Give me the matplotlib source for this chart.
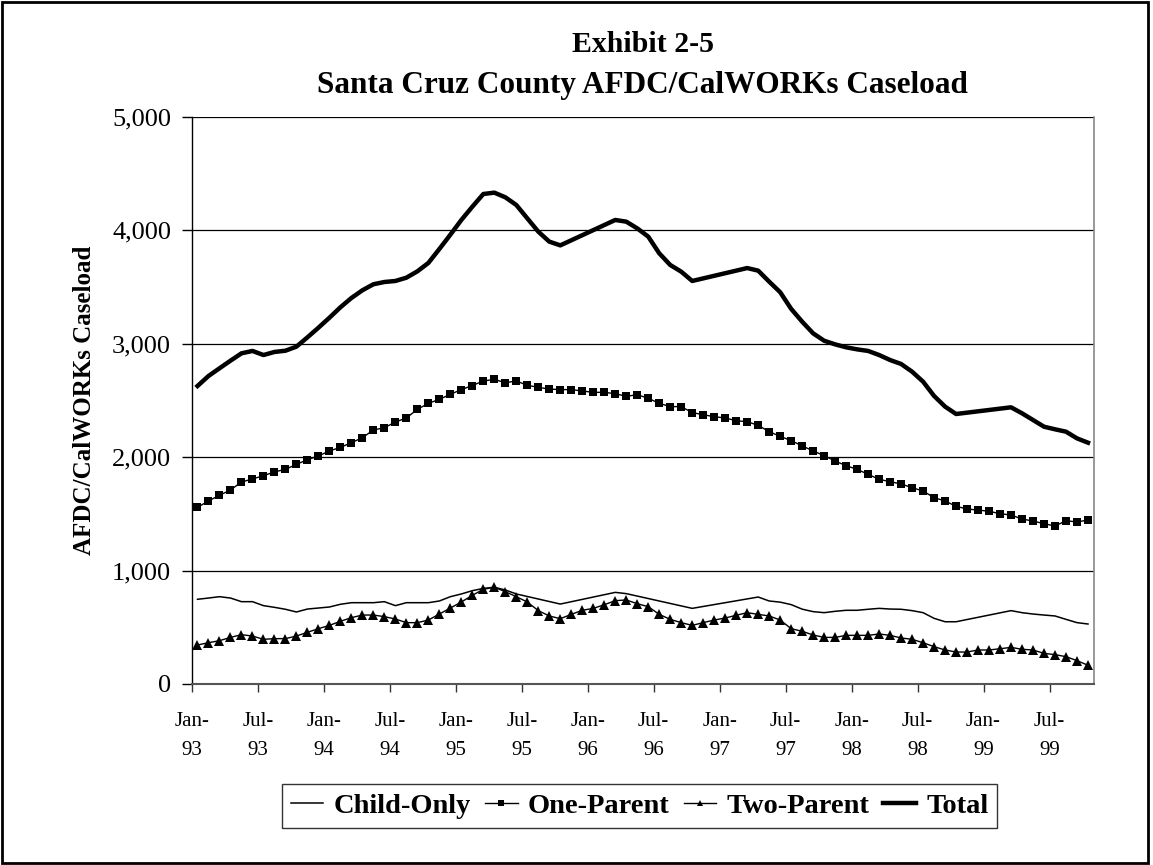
import numpy as np
import matplotlib
matplotlib.use("Agg")
import matplotlib.pyplot as plt
from matplotlib.lines import Line2D
from matplotlib.patches import Rectangle

# ---------------- data (monthly, Jan-93 .. Oct-99) ----------------
tick_labels = ["Jan-\n93", "Jul-\n93", "Jan-\n94", "Jul-\n94", "Jan-\n95", "Jul-\n95",
               "Jan-\n96", "Jul-\n96", "Jan-\n97", "Jul-\n97", "Jan-\n98", "Jul-\n98",
               "Jan-\n99", "Jul-\n99"]

series_names = ["Child-Only", "One-Parent", "Two-Parent", "Total"]

child_only = [747, 758, 770, 758, 726, 726, 691, 676, 659, 635,
              661, 670, 679, 703, 717, 717, 717, 726, 691, 717,
              717, 717, 732, 770, 794, 823, 843, 853, 829, 794,
              None, None, None, 705, None, None, None, None, 808, 797,
              None, None, None, None, None, 667, None, None, None, None,
              None, 767, 732, 722, 700, 660, 638, 629, 641, 650,
              650, 659, 667, 661, 659, 647, 629, 579, 549, 549,
              None, None, None, None, 647, 629, 617, 608, 600, 570,
              541, 529]

one_parent = [1558, 1614, 1664, 1711, 1781, 1808, 1837, 1870, 1893, 1937,
              1978, 2011, 2055, 2087, 2128, 2172, 2240, 2260, 2310, 2346,
              2422, 2475, 2510, 2555, 2596, 2632, 2672, 2686, 2657, 2672,
              2634, 2616, 2601, 2596, 2596, 2584, 2572, 2572, 2560, 2537,
              2551, 2520, 2475, 2446, 2446, 2393, 2375, 2357, 2346, 2322,
              2313, 2281, 2225, 2184, 2146, 2100, 2055, 2014, 1966, 1925,
              1893, 1849, 1805, 1784, 1764, 1731, 1702, 1643, 1614, 1567,
              1543, 1534, 1523, 1502, 1490, 1455, 1437, 1414, 1393, 1440,
              1429, 1446]

two_parent = [344, 364, 382, 411, 435, 423, 394, 400, 400, 423,
              456, 488, 517, 553, 585, 608, 608, 594, 573, 541,
              541, 564, 617, 670, 723, 782, 835, 853, 814, 770,
              723, 647, 600, 576, 614, 650, 667, 699, 735, 741,
              708, 682, 614, 570, 541, 517, 541, 564, 582, 606,
              629, 614, 600, 564, 488, 465, 432, 411, 411, 429,
              429, 429, 441, 429, 406, 394, 364, 329, 300, 282,
              282, 300, 300, 311, 323, 306, 300, 270, 259, 241,
              206, 165]

total = [2628, 2716, 2784, 2851, 2916, 2937, 2901, 2928, 2939, 2975,
         3057, 3142, 3230, 3322, 3404, 3472, 3525, 3545, 3554, 3583,
         3639, 3713, 3836, 3962, 4092, 4209, 4321, 4333, 4292, 4224,
         4106, 3989, 3901, 3868, None, None, None, None, 4092, 4077,
         4018, 3945, 3798, 3695, 3636, 3554, None, None, None, None,
         3668, 3645, 3548, 3455, 3308, 3195, 3092, 3027, 2995, 2969,
         2951, 2937, 2901, 2857, 2822, 2754, 2666, 2540, 2446, 2381,
         None, None, None, None, 2440, 2387, 2328, 2269, 2246, 2225,
         2166, 2128]

y_ticks = [0, 1000, 2000, 3000, 4000, 5000]

# ---------------- figure ----------------
plt.rcParams["font.family"] = ["Liberation Serif", "DejaVu Serif"]

W, H = 1153, 865
fig = plt.figure(figsize=(W / 100, H / 100), dpi=100)
fig.patch.set_facecolor("white")

# outer border
fig.add_artist(Rectangle((2 / W, 2 / H), 1146 / W, 861 / H, transform=fig.transFigure,
                         fill=False, edgecolor="black", linewidth=2))

L, R, T, B = 192, 1093.5, 117, 684
ax = fig.add_axes([L / W, 1 - B / H, (R - L) / W, (B - T) / H])

n = len(one_parent)
x = np.arange(n)


def plot_series(vals, **kw):
    arr = np.array([np.nan if v is None else v for v in vals], dtype=float)
    m = ~np.isnan(arr)
    return ax.plot(x[m], arr[m], **kw)


plot_series(total, color="black", lw=3.2, solid_joinstyle="round", zorder=4)
plot_series(child_only, color="black", lw=1.1, zorder=3)
plot_series(one_parent, color="black", lw=1.0, marker="s", ms=6.3,
            markeredgewidth=0, zorder=5)
plot_series(two_parent, color="black", lw=1.0, marker="^", ms=7.2,
            markeredgewidth=0, zorder=5)

ax.set_xlim(-0.5, n - 0.5)
ax.set_ylim(0, 5000)
ax.set_yticks(y_ticks)
ax.set_yticklabels([f"{v:,}" for v in y_ticks])
ax.set_xticks([-0.5 + 6 * k for k in range(len(tick_labels))])
ax.set_xticklabels(tick_labels, linespacing=1.75)

ax.grid(axis="y", color="black", linewidth=0.9)
ax.set_axisbelow(True)

ax.spines["top"].set_visible(False)
ax.spines["left"].set_color("black")
ax.spines["left"].set_linewidth(1.0)
ax.spines["bottom"].set_color("#555555")
ax.spines["bottom"].set_linewidth(1.5)
ax.spines["right"].set_color("#888888")
ax.spines["right"].set_linewidth(1.2)

ax.tick_params(axis="y", direction="out", length=7, width=1, labelsize=19, pad=8)
ax.tick_params(axis="x", direction="out", length=6, width=1, labelsize=15, pad=14,
               color="#333333")

# titles
cx = (L + R) / 2 / W
fig.text(cx, 1 - 44 / H, "Exhibit 2-5", ha="center", va="center",
         fontsize=21.5, fontweight="bold")
fig.text(cx, 1 - 85 / H, "Santa Cruz County AFDC/CalWORKs Caseload", ha="center",
         va="center", fontsize=22.5, fontweight="bold")

# y label
fig.text(85 / W, 1 - 400 / H, "AFDC/CalWORKs Caseload", rotation=90, ha="center",
         va="center", fontsize=18, fontweight="bold")

# legend
handles = [
    Line2D([], [], color="black", lw=1.1),
    Line2D([], [], color="black", lw=1.0, marker="s", ms=4.5, markeredgewidth=0),
    Line2D([], [], color="black", lw=1.0, marker="^", ms=5, markeredgewidth=0),
    Line2D([], [], color="black", lw=3.2),
]
leg = fig.legend(handles, series_names, loc="center",
                 bbox_to_anchor=((276 + 1003) / 2 / W, 1 - 806 / H),
                 ncol=4, frameon=True, fancybox=False, edgecolor="black",
                 handlelength=1.15, handletextpad=0.35, columnspacing=0.5,
                 borderpad=0.3, prop={"weight": "bold", "size": 20.5})
leg.get_frame().set_linewidth(1.0)

fig.savefig("out.png", dpi=100, facecolor="white")
